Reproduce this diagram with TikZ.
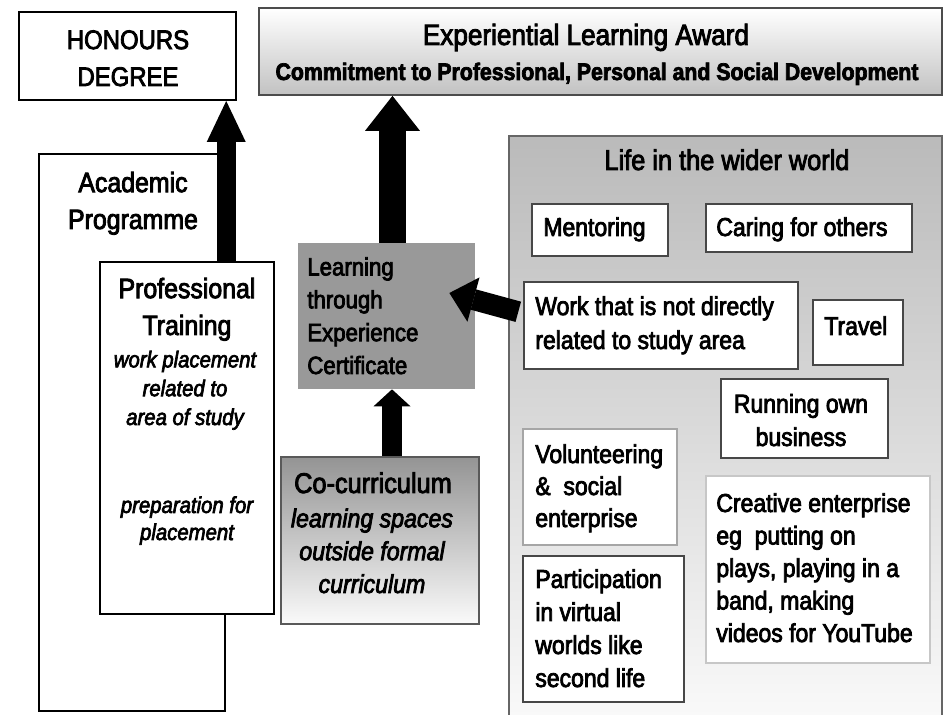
\documentclass[tikz,border=0pt]{standalone}
\usepackage{fontspec}
\setmainfont{Liberation Sans}[FakeStretch=0.89,FakeBold=3]
\usetikzlibrary{arrows.meta,calc,fit}
\newcommand\setfs[2]{\fontsize{#1pt}{#2pt}\selectfont}

\begin{document}
\begin{tikzpicture}[x=0.02cm,y=-0.02cm,
  frame/.style={draw=black, line width=1.2pt, inner sep=0pt},
  tile/.style={draw=black!72, line width=0.8pt, fill=white, inner sep=0pt},
  softtile/.style={tile, draw=black!35},
  % multi-line labels are placed by the baseline of their last line
  lbl/.style={inner sep=0pt, anchor=base west, align=left},
  clbl/.style={inner sep=0pt, anchor=base, align=center},
  boxtext/.style={font=\setfs{14.7}{19}},
  note/.style={font=\itshape\setfs{13}{16.4}},
  blockarrow/.style={line width=#1, draw=black},
]
\useasboundingbox (0,0) rectangle (947,715);

% wider-world panel and its activity tiles
\node[fit={(509,136) (942,724)}, inner sep=0pt, draw=black!60, line width=0.9pt,
      top color=black!27, bottom color=black!2] (life) {};
\node[clbl, font=\setfs{16.2}{19}] (lifeT) at (727,170) {Life in the wider world};

\node[tile, fit={(532,204) (668,256)}] (ment) {};
\node[tile, fit={(706,204) (912,252)}] (care) {};
\node[tile, fit={(524,282) (798,369)}] (work) {};
\node[tile, fit={(813,300) (903,365)}] (travel) {};
\node[tile, fit={(721,379) (888,458)}] (run) {};
\node[softtile, fit={(523,429) (677,545)}] (vol) {};
\node[softtile, draw=black!22, fit={(706,476) (930,663)}] (crea) {};
\node[tile, fit={(523,556) (684,702)}] (part) {};

\node[lbl, boxtext] (mentT) at (543,236) {Mentoring};
\node[lbl, boxtext] (careT) at (716,236) {Caring for others};
\node[lbl, boxtext, font=\setfs{14.7}{19.3}] (workT) at (535,349) {Work that is not directly\\related to study area};
\node[lbl, boxtext] (travelT) at (824,335) {Travel};
\node[clbl, boxtext] (runT) at (801,446) {Running own\\business};
\node[lbl, boxtext, font=\setfs{14.7}{18.2}] (volT) at (535,527) {Volunteering\\\&\ \ social\\enterprise};
\node[lbl, boxtext, font=\setfs{14.7}{18.5}] (creaT) at (716,642) {Creative enterprise\\eg\ \ putting on\\plays, playing in a\\band, making\\videos for YouTube};
\node[lbl, boxtext, font=\setfs{14.7}{18.8}] (partT) at (535,687) {Participation\\in virtual\\worlds like\\second life};

% academic programme and professional training
\node[frame, line width=1.4pt, fit={(39,154) (225,711)}] (acad) {};
\node[clbl, font=\setfs{15.9}{21}] (acadT) at (133,229) {Academic\\Programme};
\node[frame, line width=1.3pt, fill=white, fit={(100,262) (274,614)}] (prof) {};
\node[clbl, font=\setfs{15.9}{21}] (profT) at (187,335) {Professional\\Training};
\node[clbl, note] (profA) at (185,425) {work placement\\related to\\area of study};
\node[clbl, note, font=\itshape\setfs{13}{15.4}] (profB) at (187,540) {preparation for\\placement};

% awards along the top
\node[frame, line width=1.1pt, fit={(19,12) (236,100)}] (hon) {};
\node[clbl, font=\setfs{15.3}{21}] (honT) at (128,86) {HONOURS\\DEGREE};

\node[fit={(259,8) (942,95)}, inner sep=0pt, draw=black!70, line width=1pt,
      top color=white, bottom color=black!24] (exp) {};
\node[clbl, font=\setfs{16.7}{20}] (expT) at (586,45) {Experiential Learning Award};
\node[clbl, font=\bfseries\setfs{13.6}{16}] (expS) at (597,80) {Commitment to Professional, Personal and Social Development};

% certificate and co-curriculum
\node[fit={(298,243) (475,389)}, inner sep=0pt, fill=black!40] (cert) {};
\node[lbl, font=\setfs{14.2}{18.7}] (certT) at (307,374) {Learning\\through\\Experience\\Certificate};

\node[fit={(281,457) (479,624)}, inner sep=0pt, draw=black!65, line width=0.9pt,
      top color=black!42, bottom color=black!2] (cocur) {};
\node[clbl, font=\setfs{16.2}{19}] (cocurT) at (373,493) {Co-curriculum};
\node[clbl, font=\itshape\setfs{14.8}{18.7}] (cocurS) at (372,593) {learning spaces\\outside formal\\curriculum};

% block arrows
\draw[blockarrow=0.38cm, -{Triangle[width=0.78cm,length=0.82cm,line width=0pt]}]
  (acad.north east |- prof.north) -- (acad.north east |- hon.south);

\coordinate (certTop) at ($(cert.north)+(6,0)$);
\draw[blockarrow=0.54cm, -{Triangle[width=1.1cm,length=0.7cm,line width=0pt]}]
  (certTop) -- (certTop |- exp.south);

\coordinate (cocurTop) at ($(cocur.north)+(12,0)$);
\draw[blockarrow=0.4cm, -{Triangle[width=0.74cm,length=0.34cm,line width=0pt]}]
  (cocurTop) -- (cocurTop |- cert.south);

\coordinate (workTail) at ($(work.north west)!0.345!(work.south west)+(-5,0)$);
\coordinate (certTip) at ($(cert.east)+(-26,-23)$);
\draw[blockarrow=0.42cm, -{Triangle[width=0.92cm,length=0.5cm,line width=0pt]}]
  (workTail) -- (certTip);
\end{tikzpicture}
\end{document}
